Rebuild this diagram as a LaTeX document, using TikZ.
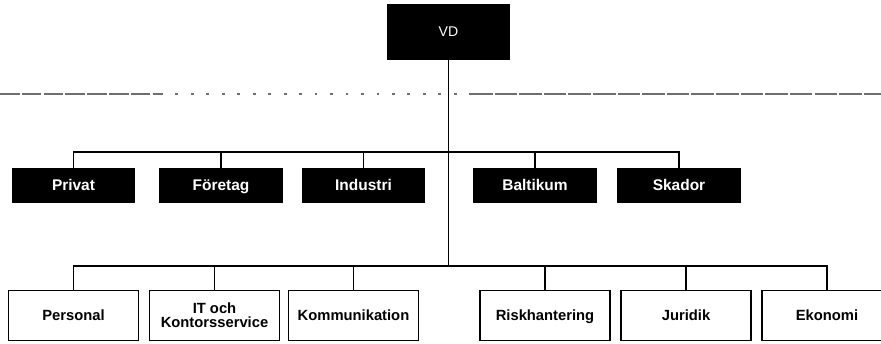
\documentclass[tikz,border=0pt]{standalone}
\usepackage{fontspec}
\setmainfont{Liberation Sans}
\usepackage{tikz}
\usetikzlibrary{positioning}
\definecolor{scanGray}{RGB}{110,110,110}

\begin{document}
\begin{tikzpicture}[
    x=0.025cm, y=-0.025cm,
    headBox/.style={
        rectangle,
        fill=black,
        text=white,
        minimum width=3.08cm,
        minimum height=1.4cm,
        font=\fontsize{10}{12}\selectfont
    },
    unitBox/.style={
        rectangle,
        fill=black,
        text=white,
        minimum width=3.08cm,
        minimum height=0.88cm,
        text height=1.75ex,
        text depth=0.45ex,
        font=\bfseries\fontsize{11}{12}\selectfont
    },
    staffBox/.style={
        rectangle,
        draw=black,
        line width=0.8pt,
        fill=white,
        minimum width=3.25cm,
        minimum height=1.27cm,
        align=center,
        text height=1.75ex,
        text depth=0.45ex,
        font=\bfseries\fontsize{10.5}{10}\selectfont
    },
    link/.style={line width=1.1pt, draw=black}
]
    \useasboundingbox (0,0) rectangle (881,343);

    \draw[scanGray, line width=1.2pt, dash pattern=on 14pt off 1.5pt] (0,94) -- (160,94);
    \draw[scanGray, line width=1.2pt, dash pattern=on 2pt off 9pt] (160,94) -- (470,94);
    \draw[scanGray, line width=1.2pt, dash pattern=on 16pt off 1.5pt] (470,94) -- (881,94);

    \node[headBox] (vd) at (448.5,32) {VD};

    \node[unitBox] (privat) at (73.5,185.5) {Privat};
    \node[unitBox] (foretag) at (221,185.5) {Företag};
    \node[unitBox] (industri) at (363.5,185.5) {Industri};
    \node[unitBox] (baltikum) at (535,185.5) {Baltikum};
    \node[unitBox] (skador) at (679,185.5) {Skador};

    \node[staffBox] (personal) at (73.5,315.5) {Personal};
    \node[staffBox, text height={}, text depth={}] (itservice) at (214.5,315.5) {IT och\\Kontorsservice};
    \node[staffBox] (kommunikation) at (353.5,315.5) {Kommunikation};
    \node[staffBox] (risk) at (545,315.5) {Riskhantering};
    \node[staffBox] (juridik) at (686,315.5) {Juridik};
    \node[staffBox] (ekonomi) at (827,315.5) {Ekonomi};

    \coordinate (upperBus) at (448.5,152);
    \coordinate (lowerBus) at (448.5,266);

    \draw[link] (vd) -- (lowerBus);
    \foreach \unit in {privat,foretag,industri,baltikum,skador}
        \draw[link] (upperBus) -| (\unit);
    \foreach \staff in {personal,itservice,kommunikation,risk,juridik,ekonomi}
        \draw[link] (lowerBus) -| (\staff);
\end{tikzpicture}
\end{document}
